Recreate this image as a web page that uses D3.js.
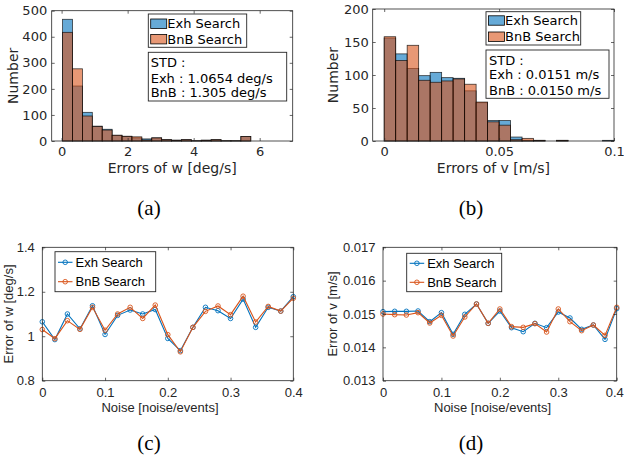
<!DOCTYPE html>
<html><head><meta charset="utf-8">
<script src="https://cdn.jsdelivr.net/npm/d3@7"></script>
<style>body{margin:0;background:#fff}svg{display:block}</style>
</head><body>
<script>
// ---------- DATA ----------
const seriesNames = ["Exh Search", "BnB Search"];
// (a) histogram of errors of w [deg/s]
const edgesA = [0.03,0.33,0.63,0.93,1.23,1.53,1.83,2.13,2.43,2.73,3.03,3.33,3.63,3.93,4.23,4.53,4.83,5.13,5.43,5.73,6.03];
const exhA = [467,211,110,57,45,22,18,12,8,12,5,3,5,1,3,5,1,1,17,0];
const bnbA = [417,277,96,56,42,22,18,16,4,12,5,3,5,1,3,5,1,1,17,0];
const stdA = ["STD :", "Exh : 1.0654 deg/s", "BnB : 1.305 deg/s"];
const xTicksA = [0,2,4,6], yTicksA = [0,100,200,300,400,500];
// (b) histogram of errors of v [m/s]
const edgesB = [0,0.005,0.01,0.015,0.02,0.025,0.03,0.035,0.04,0.045,0.05,0.055,0.06,0.065,0.07,0.075,0.08,0.085,0.09,0.095,0.1];
const exhB = [156,132,110,99,104,96,95,76,58,31,31,6,1,1,0,1,0,0,0,1];
const bnbB = [158,122,145,92,89,91,94,86,59,29,24,2,4,1,0,1,0,0,0,0];
const stdB = ["STD :", "Exh : 0.0151 m/s", "BnB : 0.0150 m/s"];
const xTicksB = [0,0.05,0.1], yTicksB = [0,50,100,150,200];
// (c),(d) noise sweeps
const noise = [0,0.02,0.04,0.06,0.08,0.1,0.12,0.14,0.16,0.18,0.2,0.22,0.24,0.26,0.28,0.3,0.32,0.34,0.36,0.38,0.4];
const exhW = [1.065,0.985,1.10,1.033,1.137,1.008,1.094,1.118,1.10,1.12,0.99,0.935,1.04,1.13,1.115,1.08,1.167,1.04,1.13,1.113,1.178];
const bnbW = [1.03,0.989,1.07,1.031,1.13,1.027,1.10,1.13,1.08,1.14,1.007,0.93,1.04,1.112,1.136,1.097,1.18,1.064,1.134,1.113,1.171];
const exhV = [0.01507,0.01508,0.01508,0.01509,0.01477,0.01504,0.01439,0.01499,0.0153,0.01472,0.01509,0.01459,0.01447,0.01472,0.01459,0.01506,0.01488,0.01454,0.01467,0.01424,0.01516];
const bnbV = [0.0150,0.01498,0.01497,0.01504,0.01473,0.01496,0.01434,0.01491,0.0153,0.01472,0.01515,0.01462,0.0146,0.01471,0.01446,0.01515,0.01477,0.0145,0.01467,0.01436,0.0152];
const xTicksN = [0,0.1,0.2,0.3,0.4];
const yTicksW = [0.8,1,1.2,1.4];
const yTicksV = [0.013,0.014,0.015,0.016,0.017];
const captions = ["(a)", "(b)", "(c)", "(d)"];

// ---------- STYLE ----------
const BLUE = "#0072BD", ORANGE = "#D95319", AX = "#262626";
const svg = d3.select("body").append("svg").attr("width", 624).attr("height", 459);

function makeAxes(c) {
  const g = svg.append("g");
  const x = d3.scaleLinear().domain(c.xDomain).range([c.left, c.right]);
  const y = d3.scaleLinear().domain(c.yDomain).range([c.bottom, c.top]);
  return {g, x, y, c};
}
function finishAxes(A) {
  const {g, x, y, c} = A;
  const fam = c.font;
  const styleAxis = (sel, labels) => {
    sel.select(".domain").remove();
    sel.selectAll(".tick line").attr("stroke", AX).attr("stroke-width", 0.7);
    sel.selectAll(".tick text").attr("fill", labels ? AX : "none")
      .style("font-family", fam).style("font-size", "13px");
    if (!labels) sel.selectAll(".tick text").remove();
  };
  const xb = g.append("g").attr("transform", `translate(0,${c.bottom})`)
    .call(d3.axisBottom(x).tickValues(c.xTicks).tickSize(-3).tickPadding(c.xPad).tickFormat(c.xFmt))
    .call(s => styleAxis(s, true));
  if (c.lastXdx) xb.selectAll(".tick text").filter((d, i, n) => i === n.length - 1).attr("dx", c.lastXdx);
  g.append("g").attr("transform", `translate(0,${c.top})`)
    .call(d3.axisTop(x).tickValues(c.xTicks).tickSize(-3))
    .call(s => styleAxis(s, false));
  g.append("g").attr("transform", `translate(${c.left},0)`)
    .call(d3.axisLeft(y).tickValues(c.yTicks).tickSize(-3).tickPadding(c.yPad).tickFormat(c.yFmt))
    .call(s => styleAxis(s, true));
  g.append("g").attr("transform", `translate(${c.right},0)`)
    .call(d3.axisRight(y).tickValues(c.yTicks).tickSize(-3))
    .call(s => styleAxis(s, false));
  g.append("rect").attr("x", c.left).attr("y", c.top)
    .attr("width", c.right - c.left).attr("height", c.bottom - c.top)
    .attr("fill", "none").attr("stroke", AX).attr("stroke-width", 0.8);
  g.append("text").attr("x", (c.left + c.right) / 2 + (c.xLabelDx || 0)).attr("y", c.xLabelY)
    .attr("text-anchor", "middle").attr("fill", AX)
    .style("font-family", fam).style("font-size", c.labelSize + "px").text(c.xLabel);
  g.append("text").attr("transform", `translate(${c.yLabelX},${(c.top + c.bottom) / 2 + (c.yLabelDy||0)}) rotate(-90)`)
    .attr("text-anchor", "middle").attr("fill", AX)
    .style("font-family", fam).style("font-size", c.labelSize + "px").text(c.yLabel);
}

function drawHist(A, edges, exh, bnb) {
  const {g, x, y} = A;
  [[exh, BLUE], [bnb, ORANGE]].forEach(([vals, col]) => {
    g.append("g").selectAll("rect").data(vals).join("rect")
      .attr("x", (d, i) => x(edges[i]))
      .attr("width", (d, i) => x(edges[i + 1]) - x(edges[i]))
      .attr("y", d => y(d))
      .attr("height", d => y(0) - y(d))
      .attr("fill", col).attr("fill-opacity", 0.6)
      .attr("stroke", "#000").attr("stroke-width", 0.8).attr("stroke-opacity", 0.75);
  });
}

function histLegend(A, bx, by, bw, bh, rowYs, stdBox, stdLines, stdX, stdYs) {
  const g = A.g;
  g.append("rect").attr("x", bx).attr("y", by).attr("width", bw).attr("height", bh)
    .attr("fill", "#fff").attr("stroke", AX).attr("stroke-width", 0.9);
  [BLUE, ORANGE].forEach((col, i) => {
    g.append("rect").attr("x", bx + 2.4).attr("y", rowYs[i] - 4.7).attr("width", 16).attr("height", 9.4)
      .attr("fill", col).attr("fill-opacity", 0.6).attr("stroke", "#000").attr("stroke-width", 0.8);
    g.append("text").attr("x", bx + 19).attr("y", rowYs[i] + 4.6).attr("fill", "#000")
      .style("font-family", "DejaVu Sans").style("font-size", "13px").text(seriesNames[i]);
  });
  g.append("rect").attr("x", stdBox[0]).attr("y", stdBox[1]).attr("width", stdBox[2]).attr("height", stdBox[3])
    .attr("fill", "#fff").attr("stroke", AX).attr("stroke-width", 0.9);
  stdLines.forEach((t, i) => {
    g.append("text").attr("x", stdX).attr("y", stdYs[i]).attr("fill", "#000")
      .style("font-family", "DejaVu Sans").style("font-size", "13px").text(t);
  });
}

function drawLines(A, xs, s1, s2) {
  const {g, x, y} = A;
  const line = d3.line().x((d, i) => x(xs[i])).y(d => y(d));
  [[s1, BLUE], [s2, ORANGE]].forEach(([vals, col]) => {
    g.append("path").datum(vals).attr("d", line).attr("fill", "none")
      .attr("stroke", col).attr("stroke-width", 1.1);
    g.append("g").selectAll("circle").data(vals).join("circle")
      .attr("cx", (d, i) => x(xs[i])).attr("cy", d => y(d)).attr("r", 2.3)
      .attr("fill", "none").attr("stroke", col).attr("stroke-width", 0.9);
  });
}
function lineLegend(A, bx, by, bw, bh, rowYs) {
  const g = A.g;
  g.append("rect").attr("x", bx).attr("y", by).attr("width", bw).attr("height", bh)
    .attr("fill", "#fff").attr("stroke", AX).attr("stroke-width", 0.9);
  [BLUE, ORANGE].forEach((col, i) => {
    g.append("line").attr("x1", bx + 3).attr("x2", bx + 17.5).attr("y1", rowYs[i]).attr("y2", rowYs[i])
      .attr("stroke", col).attr("stroke-width", 1.1);
    g.append("circle").attr("cx", bx + 10.2).attr("cy", rowYs[i]).attr("r", 2.3)
      .attr("fill", "none").attr("stroke", col).attr("stroke-width", 0.9);
    g.append("text").attr("x", bx + 20.5).attr("y", rowYs[i] + 4.6).attr("fill", "#000")
      .style("font-family", "Liberation Sans").style("font-size", "13px").text(seriesNames[i]);
  });
}

// ---------- (a) ----------
const Aa = makeAxes({left: 51.7, right: 292.7, top: 10.7, bottom: 141, xDomain: [-0.3, 7], yDomain: [0, 500]});
drawHist(Aa, edgesA, exhA, bnbA);
Object.assign(Aa.c, {font: "DejaVu Sans", xTicks: xTicksA, yTicks: yTicksA, xPad: 5.3, yPad: 4.5,
  xFmt: d3.format("d"), yFmt: d3.format("d"), xLabel: "Errors of w [deg/s]", yLabel: "Number",
  xLabelY: 173, yLabelX: 18, labelSize: 14});
finishAxes(Aa);
histLegend(Aa, 148.3, 14, 98.4, 33.3, [23.7, 39.2], [148.3, 52.3, 138.4, 48.7], stdA, 150.7, [67, 82.5, 97]);

// ---------- (b) ----------
const Ab = makeAxes({left: 372.7, right: 614, top: 9, bottom: 141, xDomain: [-0.005, 0.1], yDomain: [0, 200]});
drawHist(Ab, edgesB, exhB, bnbB);
Object.assign(Ab.c, {font: "DejaVu Sans", xTicks: xTicksB, yTicks: yTicksB, xPad: 5.3, yPad: 3.8,
  xFmt: d => d === 0 ? "0" : String(d), yFmt: d3.format("d"), xLabel: "Errors of v [m/s]", yLabel: "Number",
  xLabelY: 173, xLabelDx: 0, yLabelX: 338, labelSize: 14});
finishAxes(Ab);
histLegend(Ab, 486, 11.7, 94.7, 33.3, [20.5, 36.7], [486, 50, 123, 48.3], stdB, 489, [64.5, 79.2, 94.5]);

// ---------- (c) ----------
const Ac = makeAxes({left: 42.3, right: 293.3, top: 247.3, bottom: 380.7, xDomain: [0, 0.4], yDomain: [0.8, 1.4]});
drawLines(Ac, noise, exhW, bnbW);
Object.assign(Ac.c, {font: "Liberation Sans", xTicks: xTicksN, yTicks: yTicksW, xPad: 6.8, yPad: 7.5,
  xFmt: d => String(+d.toFixed(2)), yFmt: d => String(+d.toFixed(2)), xLabel: "Noise [noise/events]",
  yLabel: "Error of w [deg/s]", xLabelY: 412, xLabelDx: -7.8, yLabelX: 13, labelSize: 13});
finishAxes(Ac);
lineLegend(Ac, 55, 251.7, 100.7, 40, [262.3, 281.7]);

// ---------- (d) ----------
const Ad = makeAxes({left: 383, right: 616.7, top: 247.3, bottom: 380.7, xDomain: [0, 0.4], yDomain: [0.013, 0.017]});
drawLines(Ad, noise, exhV, bnbV);
Object.assign(Ad.c, {font: "Liberation Sans", xTicks: xTicksN, yTicks: yTicksV, xPad: 6.8, yPad: 7.5,
  xFmt: d => String(+d.toFixed(2)), yFmt: d => d.toFixed(3), xLabel: "Noise [noise/events]",
  yLabel: "Error of v [m/s]", xLabelY: 412, xLabelDx: -7.3, yLabelX: 337, labelSize: 13, lastXdx: -2.5});
finishAxes(Ad);
lineLegend(Ad, 406.7, 253.3, 95, 38.4, [263.3, 282.3]);

// ---------- captions ----------
[[149, 214.5], [471, 214.5], [149, 449.5], [471, 449.5]].forEach((p, i) => {
  svg.append("text").attr("x", p[0]).attr("y", p[1]).attr("text-anchor", "middle").attr("fill", "#000")
    .style("font-family", "Liberation Serif").style("font-size", "21px").text(captions[i]);
});
</script>
</body></html>
